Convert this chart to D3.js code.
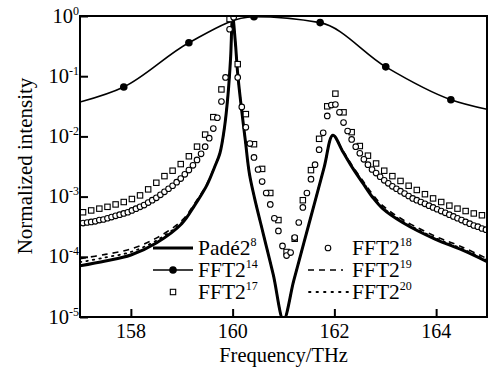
<!DOCTYPE html>
<html><head><meta charset="utf-8">
<script src="https://cdn.jsdelivr.net/npm/d3@7"></script>
<style>body{margin:0;background:#fff}svg{display:block} svg text, svg tspan{font-family:"Liberation Serif" !important}</style>
</head><body>
<svg id="c" width="489" height="373"></svg>
<script>
// ---- data (y values stored as log10 of normalized intensity) ----
const xTicks = [158, 160, 162, 164];
const yTickExp = [0, -1, -2, -3, -4, -5];

const padeFreq = [157.0,157.5,158.0,158.5,159.0,159.25,159.5,159.65,159.75,159.84,159.91,159.96,160.0,160.05,160.1,160.17,160.25,160.33,160.43,160.6,160.8,161.0,161.2,161.4,161.6,161.8,161.97,162.17,162.37,162.57,162.75,162.95,163.34,163.99,164.52,165.0];
const padeLog = [-4.15,-4.07,-3.97,-3.77,-3.45,-3.15,-2.8,-2.5,-2.28,-1.85,-1.3,-0.7,0,-0.4,-0.96,-1.51,-2.07,-2.62,-3.02,-3.61,-4.3,-5.05,-4.4,-3.77,-3.14,-2.51,-1.98,-2.26,-2.54,-2.79,-3.01,-3.2,-3.43,-3.71,-3.89,-4.08];
const fft19Log = [-4.03,-3.96,-3.87,-3.69,-3.4,-3.12,-2.78,-2.49,-2.27,-1.84,-1.3,-0.7,0,-0.4,-0.96,-1.51,-2.07,-2.62,-3.02,-3.61,-4.3,-5.05,-4.4,-3.77,-3.14,-2.51,-1.98,-2.24,-2.51,-2.75,-2.96,-3.15,-3.38,-3.66,-3.84,-4.03];
const fft20Log = [-4.09,-4.01,-3.92,-3.73,-3.43,-3.14,-2.79,-2.5,-2.28,-1.85,-1.3,-0.7,0,-0.4,-0.96,-1.51,-2.07,-2.62,-3.02,-3.61,-4.3,-5.05,-4.4,-3.77,-3.14,-2.51,-1.98,-2.25,-2.53,-2.77,-2.99,-3.18,-3.41,-3.69,-3.87,-4.06];

const fft14Freq = [157.0,157.86,159.14,160.42,161.72,163.01,164.29,165.0];
const fft14Log = [-1.43,-1.18,-0.445,-0.013,-0.11,-0.845,-1.39,-1.55];

const fft18Freq = [157.06,157.14,157.22,157.30,157.38,157.46,157.54,157.62,157.70,157.78,157.86,157.94,158.02,158.10,158.18,158.26,158.34,158.42,158.50,158.58,158.66,158.74,158.82,158.90,158.98,159.06,159.14,159.22,159.30,159.38,159.46,159.54,159.62,159.70,159.78,159.86,159.94,160.02,160.10,160.18,160.26,160.34,160.42,160.50,160.58,160.66,160.74,160.82,160.90,160.98,161.06,161.14,161.22,161.30,161.38,161.46,161.54,161.62,161.70,161.78,161.86,161.94,162.02,162.10,162.18,162.26,162.34,162.42,162.50,162.58,162.66,162.74,162.82,162.90,162.98,163.06,163.14,163.22,163.30,163.38,163.46,163.54,163.62,163.70,163.78,163.86,163.94,164.02,164.10,164.18,164.26,164.34,164.42,164.50,164.58,164.66,164.74,164.82,164.90,164.98];
const fft18Log = [-3.44,-3.43,-3.42,-3.41,-3.39,-3.38,-3.36,-3.34,-3.32,-3.30,-3.28,-3.26,-3.23,-3.20,-3.17,-3.14,-3.10,-3.06,-3.02,-2.97,-2.92,-2.87,-2.82,-2.76,-2.70,-2.63,-2.56,-2.48,-2.39,-2.29,-2.17,-2.03,-1.87,-1.69,-1.42,-1.02,-0.22,-0.02,-1.02,-1.51,-1.85,-2.12,-2.35,-2.55,-2.75,-2.94,-3.13,-3.36,-3.57,-3.82,-3.98,-3.93,-3.68,-3.43,-3.18,-2.94,-2.71,-2.47,-2.22,-1.94,-1.66,-1.48,-1.47,-1.60,-1.77,-1.91,-2.05,-2.17,-2.28,-2.38,-2.47,-2.55,-2.61,-2.67,-2.73,-2.78,-2.83,-2.87,-2.91,-2.95,-2.99,-3.03,-3.06,-3.09,-3.12,-3.15,-3.18,-3.21,-3.24,-3.27,-3.30,-3.33,-3.36,-3.39,-3.42,-3.45,-3.48,-3.50,-3.53,-3.55];

const fft17Freq = [157.06,157.22,157.38,157.54,157.70,157.86,158.02,158.18,158.34,158.50,158.66,158.82,158.98,159.14,159.30,159.46,159.62,159.78,159.94,160.10,160.26,160.42,160.58,160.74,160.90,161.06,161.22,161.38,161.54,161.70,161.86,162.02,162.18,162.34,162.50,162.66,162.82,162.98,163.14,163.30,163.46,163.62,163.78,163.94,164.10,164.26,164.42,164.58,164.74,164.90];
const fft17Log = [-3.26,-3.23,-3.20,-3.17,-3.13,-3.09,-3.04,-2.98,-2.88,-2.77,-2.66,-2.57,-2.46,-2.33,-2.17,-1.97,-1.68,-1.22,-0.05,-0.80,-1.63,-2.13,-2.54,-2.94,-3.39,-3.92,-3.70,-3.06,-2.56,-2.04,-1.50,-1.29,-1.60,-1.93,-2.16,-2.32,-2.45,-2.57,-2.66,-2.74,-2.82,-2.89,-2.96,-3.03,-3.09,-3.15,-3.20,-3.24,-3.28,-3.31];

// ---- layout ----
const L = 80, R = 487, T = 16, B = 317;
const FONT = "Liberation Serif";
const svg = d3.select("#c");
svg.append("rect").attr("width",489).attr("height",373).attr("fill","#fff");
const x = d3.scaleLinear().domain([157,165]).range([L,R]);
const y = d3.scaleLog().domain([1e-5,1]).range([B,T]);

const pts = (fs, ls) => fs.map((f,i)=>({f, v: Math.pow(10, ls[i])}));

svg.append("clipPath").attr("id","clip").append("rect").attr("x",L).attr("y",T).attr("width",R-L).attr("height",B-T);
const g = svg.append("g").attr("clip-path","url(#clip)");

const lineC = d3.line().x(d=>x(d.f)).y(d=>y(d.v)).curve(d3.curveCatmullRom.alpha(0.5));
const lineM = d3.line().x(d=>x(d.f)).y(d=>y(d.v)).curve(d3.curveMonotoneX);

g.append("path").attr("d", lineC(pts(padeFreq, fft19Log))).attr("fill","none").attr("stroke","#000").attr("stroke-width",1.6).attr("stroke-dasharray","6,5");
g.append("path").attr("d", lineC(pts(padeFreq, fft20Log))).attr("fill","none").attr("stroke","#000").attr("stroke-width",1.8).attr("stroke-dasharray","1.5,5").attr("stroke-linecap","round");
g.append("path").attr("d", lineC(pts(padeFreq, padeLog))).attr("fill","none").attr("stroke","#000").attr("stroke-width",3);

const p14 = pts(fft14Freq, fft14Log);
g.append("path").attr("d", lineM(p14)).attr("fill","none").attr("stroke","#000").attr("stroke-width",1.6);
g.selectAll(".m14").data(p14.filter(d=>d.f>157 && d.f<165)).enter().append("circle")
  .attr("cx",d=>x(d.f)).attr("cy",d=>y(d.v)).attr("r",3.8).attr("fill","#000");

const s = 5.4;
g.selectAll(".sq").data(pts(fft17Freq, fft17Log)).enter().append("rect")
  .attr("x",d=>x(d.f)-s/2).attr("y",d=>y(d.v)-s/2).attr("width",s).attr("height",s)
  .attr("fill","#fff").attr("stroke","#000").attr("stroke-width",1.1);
g.selectAll(".ci").data(pts(fft18Freq, fft18Log)).enter().append("circle")
  .attr("cx",d=>x(d.f)).attr("cy",d=>y(d.v)).attr("r",2.8)
  .attr("fill","#fff").attr("stroke","#000").attr("stroke-width",1.1);

// ---- axes ----
svg.append("g").attr("transform",`translate(0,${B})`)
  .call(d3.axisBottom(x).tickValues(xTicks).tickSize(-8).tickFormat(""))
  .call(a=>{a.select(".domain").remove(); a.selectAll("text").remove(); a.selectAll("line").attr("stroke-width",2);});
svg.append("g").attr("transform",`translate(${L},0)`)
  .call(d3.axisLeft(y).tickValues(yTickExp.map(e=>Math.pow(10,e))).tickSize(-8).tickFormat(""))
  .call(a=>{a.select(".domain").remove(); a.selectAll("text").remove(); a.selectAll("line").attr("stroke-width",2);});
svg.append("rect").attr("x",L).attr("y",T).attr("width",R-L).attr("height",B-T).attr("fill","none").attr("stroke","#000").attr("stroke-width",2);

const txt = (sel) => sel.append("text").attr("font-family",FONT).style("font-family",FONT);
xTicks.forEach(v => txt(svg).attr("x",x(v)).attr("y",337.5).attr("text-anchor","middle").attr("font-size",20).text(v));
yTickExp.forEach(e => {
  const t = txt(svg).attr("x",79).attr("y",y(Math.pow(10,e))+6.5).attr("text-anchor","end").attr("font-size",20.5);
  t.append("tspan").text("10");
  t.append("tspan").attr("font-size",12).attr("dy",-8).text(e===0?"0":"-"+(-e));
});

txt(svg).attr("x",(L+R)/2).attr("y",362).attr("text-anchor","middle").attr("font-size",20.5).text("Frequency/THz");
txt(svg).attr("transform","translate(32,166) rotate(-90)").attr("text-anchor","middle").attr("font-size",21).text("Normalized intensity");

// ---- legend ----
const legRows = [248, 270, 292];
const lg = svg.append("g");
function label(xp, yp, base, sup){
  const t = txt(lg).attr("x",xp).attr("y",yp+7).attr("font-size",21.5);
  t.append("tspan").text(base);
  t.append("tspan").attr("font-size",12).attr("dy",-9).text(sup);
}
lg.append("line").attr("x1",153).attr("x2",193).attr("y1",legRows[0]).attr("y2",legRows[0]).attr("stroke","#000").attr("stroke-width",3);
label(198, legRows[0], "Padé2", "8");
lg.append("line").attr("x1",153).attr("x2",193).attr("y1",legRows[1]).attr("y2",legRows[1]).attr("stroke","#000").attr("stroke-width",1.6);
lg.append("circle").attr("cx",173).attr("cy",legRows[1]).attr("r",3.8).attr("fill","#000");
label(198, legRows[1], "FFT2", "14");
lg.append("rect").attr("x",173-s/2).attr("y",legRows[2]-s/2).attr("width",s).attr("height",s).attr("fill","#fff").attr("stroke","#000").attr("stroke-width",1.1);
label(198, legRows[2], "FFT2", "17");
lg.append("circle").attr("cx",328).attr("cy",legRows[0]).attr("r",2.8).attr("fill","#fff").attr("stroke","#000").attr("stroke-width",1.1);
label(352, legRows[0], "FFT2", "18");
lg.append("line").attr("x1",308).attr("x2",343).attr("y1",legRows[1]).attr("y2",legRows[1]).attr("stroke","#000").attr("stroke-width",1.6).attr("stroke-dasharray","6,5");
label(352, legRows[1], "FFT2", "19");
lg.append("line").attr("x1",309).attr("x2",348).attr("y1",legRows[2]).attr("y2",legRows[2]).attr("stroke","#000").attr("stroke-width",1.8).attr("stroke-dasharray","1.5,6").attr("stroke-linecap","round");
label(352, legRows[2], "FFT2", "20");
</script>
</body></html>
